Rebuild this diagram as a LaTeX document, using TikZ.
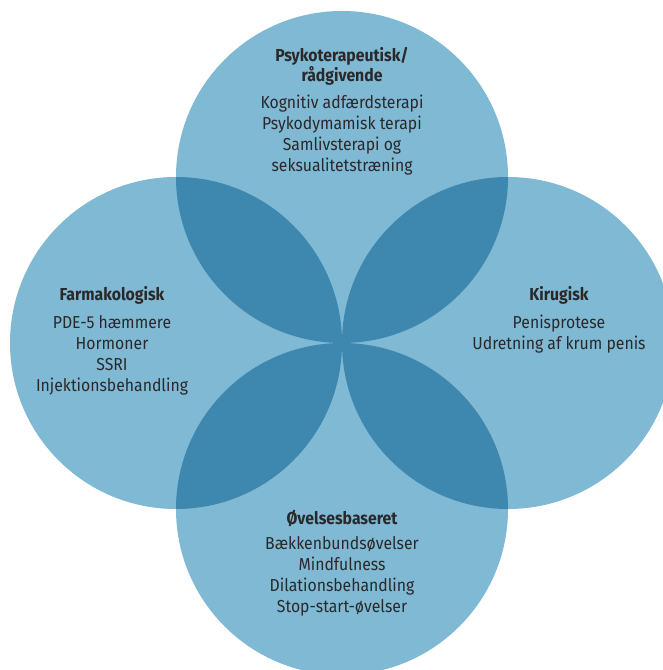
\documentclass[tikz,border=0pt]{standalone}
\usepackage{fontspec}
\setmainfont[FakeStretch=0.91]{Fira Sans}
\usetikzlibrary{positioning}

\definecolor{lightblue}{HTML}{7FB9D4}
\definecolor{darkblue}{HTML}{3E87AE}
\definecolor{textgray}{HTML}{2A2829}

\tikzset{
    disc/.style={fill=lightblue},
    lens/.style={fill=darkblue},
    head/.style={font=\fontsize{13}{15}\selectfont\bfseries, align=center, text=textgray, inner sep=0pt},
    body/.style={font=\fontsize{13}{15.8}\selectfont, align=center, text=textgray, inner sep=0pt},
}

\begin{document}
\begin{tikzpicture}[x=0.75pt, y=-0.75pt]
        \useasboundingbox (0, 0) rectangle (662, 670);

        \begin{scope}
            \coordinate (top)    at (342, 177);
            \coordinate (left)   at (176, 343);
            \coordinate (right)  at (508, 343);
            \coordinate (bottom) at (342, 509);

            \foreach \c in {top, left, right, bottom}
                \fill[disc] (\c) circle[radius=124.5pt];

            \foreach \a/\b in {top/left, top/right, bottom/left, bottom/right} {
                \begin{scope}
                    \clip (\a) circle[radius=124.5pt];
                    \fill[lens] (\b) circle[radius=124.5pt];
                \end{scope}
            }
        \end{scope}

        \node[head] (psykhead) at (342, 66) {Psykoterapeutisk/\\rådgivende};
        \node[body, below=7pt of psykhead] (psykbody) {Kognitiv adfærdsterapi\\Psykodymamisk terapi\\Samlivsterapi og\\seksualitetstræning};

        \node[head] (farmhead) at (112, 295) {Farmakologisk};
        \node[body, below=8pt of farmhead] (farmbody) {PDE-5 hæmmere\\Hormoner\\SSRI\\Injektionsbehandling};

        \node[head] (kirhead) at (559, 295) {Kirugisk};
        \node[body, below=8pt of kirhead] (kirbody) {Penisprotese\\Udretning af krum penis};

        \node[head] (ovhead) at (342, 518) {Øvelsesbaseret};
        \node[body, below=7pt of ovhead] (ovbody) {Bækkenbundsøvelser\\Mindfulness\\Dilationsbehandling\\Stop-start-øvelser};

    \end{tikzpicture}
\end{document}
